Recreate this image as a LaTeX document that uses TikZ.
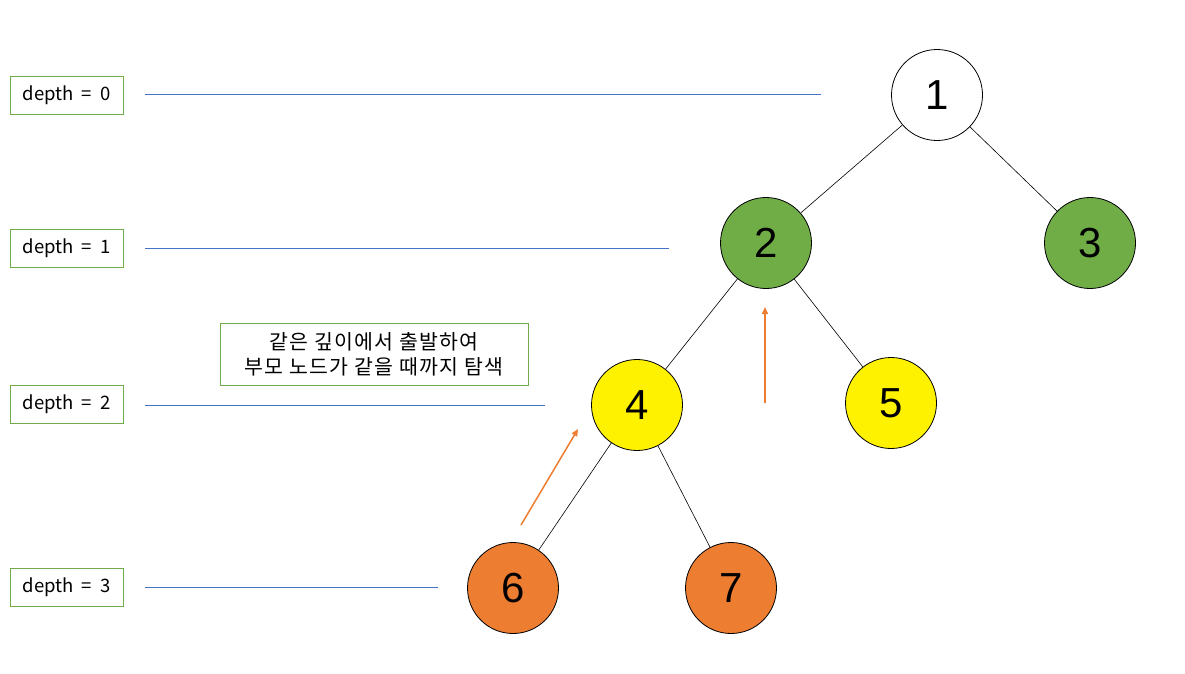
\documentclass[tikz,border=0pt]{standalone}
\usepackage{fontspec}
\setmainfont{Liberation Sans}
\newfontfamily\kr{Noto Sans CJK KR}
\newfontfamily\krsp{Noto Sans CJK KR}[LetterSpace=6]
\usetikzlibrary{arrows.meta}
\definecolor{lgreen}{HTML}{70AD47}
\definecolor{lorange}{HTML}{ED7D31}
\definecolor{lblue}{HTML}{4472C4}
\begin{document}
\begin{tikzpicture}[x=1pt,y=-1pt,
  tnode/.style={circle,draw=black,line width=0.8pt,minimum size=91pt,inner sep=0pt,font=\fontsize{42}{42}\selectfont},
  depthbox/.style={draw=lgreen,line width=0.9pt,minimum width=113pt,minimum height=38pt,inner sep=0pt,font=\kr\fontsize{18.5}{18.5}\selectfont},
  level/.style={lblue,line width=0.8pt},
  edge/.style={black,line width=0.6pt},
  move/.style={lorange,line width=1.5pt,-{Triangle[length=7pt,width=6pt]}}]
\useasboundingbox (0,0) rectangle (1185,673);
% tree nodes
\node[tnode,fill=white] (n1) at (937,95) {1};
\node[tnode,fill=lgreen] (n2) at (766,243) {2};
\node[tnode,fill=lgreen] (n3) at (1090,243) {3};
\node[tnode,fill=yellow] (n4) at (637,405) {4};
\node[tnode,fill=yellow] (n5) at (891,403) {5};
\node[tnode,fill=lorange] (n6) at (513,588) {6};
\node[tnode,fill=lorange] (n7) at (731,588) {7};
\draw[edge] (n1) -- (n2);
\draw[edge] (n1) -- (n3);
\draw[edge] (n2) -- (n4);
\draw[edge] (n2) -- (n5);
\draw[edge] (n4) -- (n6);
\draw[edge] (n4) -- (n7);
% depth labels
\node[depthbox] (d0) at (66.5,95) {\raisebox{-1.5pt}{depth\hspace{4pt} = \hspace{4pt}0}};
\node[depthbox] (d1) at (66.5,248) {\raisebox{-1.5pt}{depth\hspace{4pt} = \hspace{4pt}1}};
\node[depthbox] (d2) at (66.5,404) {\raisebox{-1.5pt}{depth\hspace{4pt} = \hspace{4pt}2}};
\node[depthbox] (d3) at (66.5,587) {\raisebox{-1.5pt}{depth\hspace{4pt} = \hspace{4pt}3}};
\coordinate (l0a) at (145,94); \coordinate (l0b) at (821,94);
\coordinate (l1a) at (145,248); \coordinate (l1b) at (669,248);
\coordinate (l2a) at (145,405); \coordinate (l2b) at (545,405);
\coordinate (l3a) at (145,587); \coordinate (l3b) at (438,587);
\draw[level] (l0a) -- (l0b);
\draw[level] (l1a) -- (l1b);
\draw[level] (l2a) -- (l2b);
\draw[level] (l3a) -- (l3b);
% note
\node[draw=lgreen,line width=0.9pt,minimum width=308pt,minimum height=62pt,inner sep=0pt,align=center,
  font=\krsp\fontsize{20.5}{25}\selectfont] (note) at (374,354) {같은 깊이에서 출발하여\\부모 노드가 같을 때까지 탐색};
% arrows
\coordinate (a1s) at (521,525); \coordinate (a1e) at (578,429);
\coordinate (a2s) at (765,403); \coordinate (a2e) at (765,307);
\draw[move] (a1s) -- (a1e);
\draw[move] (a2s) -- (a2e);
\end{tikzpicture}
\end{document}
